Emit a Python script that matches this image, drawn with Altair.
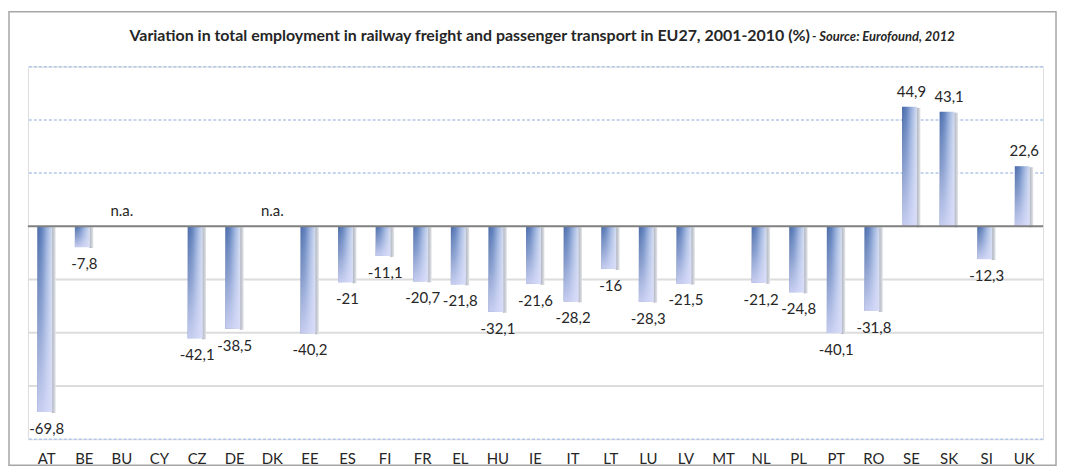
import altair as alt
import pandas as pd

countries = ["AT", "BE", "BU", "CY", "CZ", "DE", "DK", "EE", "ES", "FI", "FR", "EL", "HU", "IE",
             "IT", "LT", "LU", "LV", "MT", "NL", "PL", "PT", "RO", "SE", "SK", "SI", "UK"]
values = [-69.8, -7.8, None, None, -42.1, -38.5, None, -40.2, -21, -11.1, -20.7, -21.8, -32.1, -21.6,
          -28.2, -16, -28.3, -21.5, None, -21.2, -24.8, -40.1, -31.8, 44.9, 43.1, -12.3, 22.6]
na_countries = ["BU", "DK"]
grid_upper = [60, 40, 20]
grid_lower = [-20, -40, -60]
grid_bottom = [-80]
zero_line = [0]
title_main = "Variation in total employment in railway freight and passenger transport in EU27, 2001-2010 (%)"
title_source = " - Source: Eurofound, 2012"

W, H = 1019, 374


def fmt(v):
    return f"{v:g}".replace(".", ",")


rows = [{"country": c, "value": v, "label": fmt(v)} for c, v in zip(countries, values) if v is not None]
df = pd.DataFrame(rows)
df_na = pd.DataFrame({"country": na_countries, "value": [0] * len(na_countries), "label": ["n.a."] * len(na_countries)})

yscale = alt.Scale(domain=[-80, 60], nice=False)
xenc = alt.X("country:N", sort=countries,
             scale=alt.Scale(domain=countries, paddingInner=0, paddingOuter=0),
             axis=alt.Axis(title=None, labelAngle=0, ticks=False, domain=False, grid=False,
                           labelFont="Lato", labelFontSize=15, labelColor="#262626",
                           labelPadding=12))
yenc = alt.Y("value:Q", scale=yscale, axis=None)

one = pd.DataFrame({"a": [1]})

border = alt.Chart(one).mark_rect(filled=False, stroke="#a6a6a6", strokeWidth=1.5).encode(
    x=alt.value(-19), x2=alt.value(W + 13), y=alt.value(-55), y2=alt.value(H + 26))

t_main = alt.Chart(one).mark_text(font="Lato", fontSize=16, fontWeight="bold", color="#262626",
                                  align="right", baseline="middle").encode(
    x=alt.value(785), y=alt.value(-31), text=alt.value(title_main))
t_src = alt.Chart(one).mark_text(font="Lato", fontSize=13, fontWeight="bold", fontStyle="italic",
                                 color="#262626", align="left", baseline="middle").encode(
    x=alt.value(787), y=alt.value(-30), text=alt.value(title_source))

g_up = alt.Chart(pd.DataFrame({"v": grid_upper})).mark_rule(
    color="#b4c7e7", strokeWidth=1.5, strokeDash=[3, 2]).encode(y=alt.Y("v:Q", scale=yscale, axis=None))
g_low = alt.Chart(pd.DataFrame({"v": grid_lower})).mark_rule(
    color="#dcdcdc", strokeWidth=2).encode(y=alt.Y("v:Q", scale=yscale, axis=None))
g_bot = alt.Chart(pd.DataFrame({"v": grid_bottom})).mark_rule(
    color="#b4c7e7", strokeWidth=1.5, strokeDash=[3, 2]).encode(y=alt.Y("v:Q", scale=yscale, axis=None))

shadow = alt.Chart(df).mark_bar(size=4, xOffset=7, yOffset=1, color=alt.Gradient(
    gradient="linear", x1=0, x2=1, y1=0, y2=0,
    stops=[alt.GradientStop(color="#a9aeb8", offset=0), alt.GradientStop(color="#e4e6ea", offset=1)])
).encode(x=xenc, y=yenc)

bars = alt.Chart(df).mark_bar(size=15, xOffset=-2, color=alt.Gradient(
    gradient="linear", x1=0, x2=1, y1=0, y2=0,
    stops=[alt.GradientStop(color="#4a6aa8", offset=0),
           alt.GradientStop(color="#5f80bd", offset=0.3),
           alt.GradientStop(color="#9db3de", offset=0.65),
           alt.GradientStop(color="#d3dcf1", offset=1)])
).encode(x=xenc, y=yenc)

overlay = alt.Chart(df).mark_bar(size=15, xOffset=-2, color=alt.Gradient(
    gradient="linear", x1=0, x2=0, y1=0, y2=1,
    stops=[alt.GradientStop(color="rgba(255,255,255,0)", offset=0),
           alt.GradientStop(color="rgba(226,228,250,0.35)", offset=0.45),
           alt.GradientStop(color="rgba(218,220,250,0.85)", offset=1)])
).encode(x=xenc, y=yenc)

zero = alt.Chart(pd.DataFrame({"v": zero_line})).mark_rule(color="#808080", strokeWidth=2).encode(
    y=alt.Y("v:Q", scale=yscale, axis=None))

lab_neg = alt.Chart(df).transform_filter("datum.value < 0").mark_text(
    font="Lato", fontSize=15, color="#262626", dy=17, baseline="middle").encode(
    x=xenc, y=yenc, text="label:N")
lab_pos = alt.Chart(df).transform_filter("datum.value > 0").mark_text(
    font="Lato", fontSize=15, color="#262626", dy=-15, baseline="middle").encode(
    x=xenc, y=yenc, text="label:N")
lab_na = alt.Chart(df_na).mark_text(
    font="Lato", fontSize=15, color="#262626", dy=-15, baseline="middle").encode(
    x=xenc, y=yenc, text="label:N")

chart = alt.layer(border, t_main, t_src, g_up, g_low, g_bot, shadow, bars, overlay, zero,
                  lab_neg, lab_pos, lab_na).properties(
    width=W, height=H,
    padding={"left": 20, "top": 58, "right": 16, "bottom": 28},
    autosize=alt.AutoSizeParams(type="none"),
).configure_view(stroke=None).configure(background="white")

chart.save("out.html", embed_options={"renderer": "svg", "actions": False})
